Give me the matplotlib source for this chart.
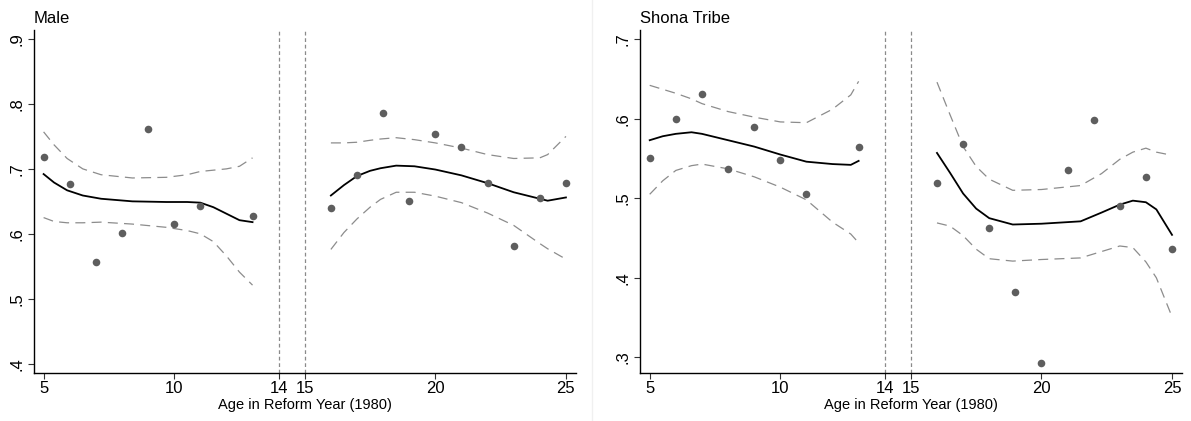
import matplotlib.pyplot as plt
from matplotlib.lines import Line2D

plt.rcParams['font.family'] = ['Liberation Sans', 'DejaVu Sans']

# ---- Male panel ----
male_x = [5, 6, 7, 8, 9, 10, 11, 13, 16, 17, 18, 19, 20, 21, 22, 23, 24, 25]
male_y = [0.718, 0.676, 0.557, 0.602, 0.762, 0.615, 0.643, 0.628,
          0.639, 0.690, 0.786, 0.650, 0.754, 0.733, 0.678, 0.582, 0.655, 0.678]

male_fit_pre_x = [5, 5.4, 5.9, 6.5, 7.2, 8.4, 9.7, 10.5, 11.0, 11.5, 12.0, 12.5, 13]
male_fit_pre = [0.692, 0.679, 0.667, 0.659, 0.654, 0.650, 0.649, 0.649, 0.648, 0.641, 0.631, 0.621, 0.618]
male_hi_pre = [0.757, 0.737, 0.716, 0.700, 0.691, 0.686, 0.687, 0.691, 0.696, 0.698, 0.700, 0.704, 0.717]
male_lo_pre = [0.625, 0.619, 0.617, 0.617, 0.618, 0.615, 0.610, 0.605, 0.600, 0.588, 0.566, 0.541, 0.521]

male_fit_post_x = [16, 16.5, 17, 17.5, 17.9, 18.5, 19.2, 20, 21, 22, 23, 24, 24.3, 25]
male_fit_post = [0.659, 0.675, 0.689, 0.697, 0.701, 0.705, 0.704, 0.699, 0.690, 0.678, 0.664, 0.654, 0.651, 0.656]
male_hi_post = [0.740, 0.740, 0.741, 0.744, 0.746, 0.748, 0.745, 0.740, 0.732, 0.722, 0.716, 0.717, 0.722, 0.750]
male_lo_post = [0.576, 0.602, 0.623, 0.641, 0.653, 0.664, 0.664, 0.658, 0.648, 0.632, 0.613, 0.585, 0.577, 0.561]

# ---- Shona Tribe panel ----
shona_x = male_x
shona_y = [0.551, 0.600, 0.631, 0.537, 0.590, 0.548, 0.505, 0.564,
           0.519, 0.568, 0.462, 0.382, 0.293, 0.535, 0.598, 0.490, 0.527, 0.436]

shona_fit_pre_x = [5, 5.5, 6, 6.6, 7, 8, 9, 10, 11, 12, 12.7, 13]
shona_fit_pre = [0.573, 0.578, 0.581, 0.583, 0.581, 0.573, 0.565, 0.555, 0.546, 0.543, 0.542, 0.547]
shona_hi_pre = [0.642, 0.637, 0.632, 0.625, 0.619, 0.609, 0.602, 0.596, 0.595, 0.612, 0.630, 0.647]
shona_lo_pre = [0.505, 0.522, 0.535, 0.541, 0.543, 0.537, 0.527, 0.514, 0.498, 0.470, 0.455, 0.444]

shona_fit_post_x = [16, 16.5, 17, 17.5, 18, 18.9, 20, 21.5, 22.3, 23, 23.5, 24, 24.4, 25]
shona_fit_post = [0.557, 0.532, 0.506, 0.487, 0.475, 0.467, 0.468, 0.471, 0.482, 0.492, 0.497, 0.495, 0.486, 0.454]
shona_hi_post = [0.646, 0.605, 0.565, 0.540, 0.524, 0.510, 0.511, 0.516, 0.531, 0.549, 0.558, 0.563, 0.558, 0.554]
shona_lo_post = [0.469, 0.465, 0.453, 0.436, 0.424, 0.421, 0.423, 0.425, 0.433, 0.440, 0.438, 0.420, 0.400, 0.351]

xticks = [5, 10, 14, 15, 20, 25]


def draw(ax, title, x, y, pre_x, pre, pre_hi, pre_lo, post_x, post, post_hi, post_lo,
         ylim, yticks, yticklabels):
    for c in (14, 15):
        ax.axvline(c, color='#8a8a8a', lw=0.9, ls=(0, (3, 2.2)), zorder=1)
    for xs, f, hi, lo in ((pre_x, pre, pre_hi, pre_lo), (post_x, post, post_hi, post_lo)):
        ax.plot(xs, hi, color='#8c8c8c', lw=0.9, ls=(0, (8, 5)))
        ax.plot(xs, lo, color='#8c8c8c', lw=0.9, ls=(0, (8, 5)))
        ax.plot(xs, f, color='black', lw=1.3)
    ax.scatter(x, y, s=30, color='#5e5e5e', zorder=3, linewidths=0)
    ax.set_xlim(4.63, 25.38)
    ax.set_ylim(*ylim)
    ax.set_xticks(xticks)
    ax.set_yticks(yticks)
    ax.set_yticklabels(yticklabels, rotation=90, va='center')
    ax.tick_params(axis='both', labelsize=12, length=4, width=0.8, color='#333333')
    ax.tick_params(axis='y', pad=3)
    ax.tick_params(axis='x', pad=2)
    ax.spines['top'].set_visible(False)
    ax.spines['right'].set_visible(False)
    for s in ('left', 'bottom'):
        ax.spines[s].set_linewidth(1.0)
    ax.set_xlabel('Age in Reform Year (1980)', fontsize=10.5, labelpad=1)
    ax.set_title(title, loc='left', fontsize=12, pad=5)


fig = plt.figure(figsize=(11.91, 4.21), dpi=100)
ax1 = fig.add_axes([0.0285, 0.114, 0.455, 0.815])
ax2 = fig.add_axes([0.5374, 0.114, 0.455, 0.815])

draw(ax1, 'Male', male_x, male_y, male_fit_pre_x, male_fit_pre, male_hi_pre, male_lo_pre,
     male_fit_post_x, male_fit_post, male_hi_post, male_lo_post,
     (0.3857, 0.914), [0.4, 0.5, 0.6, 0.7, 0.8, 0.9], ['.4', '.5', '.6', '.7', '.8', '.9'])
draw(ax2, 'Shona Tribe', shona_x, shona_y, shona_fit_pre_x, shona_fit_pre, shona_hi_pre,
     shona_lo_pre, shona_fit_post_x, shona_fit_post, shona_hi_post, shona_lo_post,
     (0.2803, 0.7117), [0.3, 0.4, 0.5, 0.6, 0.7], ['.3', '.4', '.5', '.6', '.7'])

fig.add_artist(Line2D([0.497, 0.497], [0.0, 1.0], color='#f0f0f0', lw=1))

fig.savefig('out.png', dpi=100)
